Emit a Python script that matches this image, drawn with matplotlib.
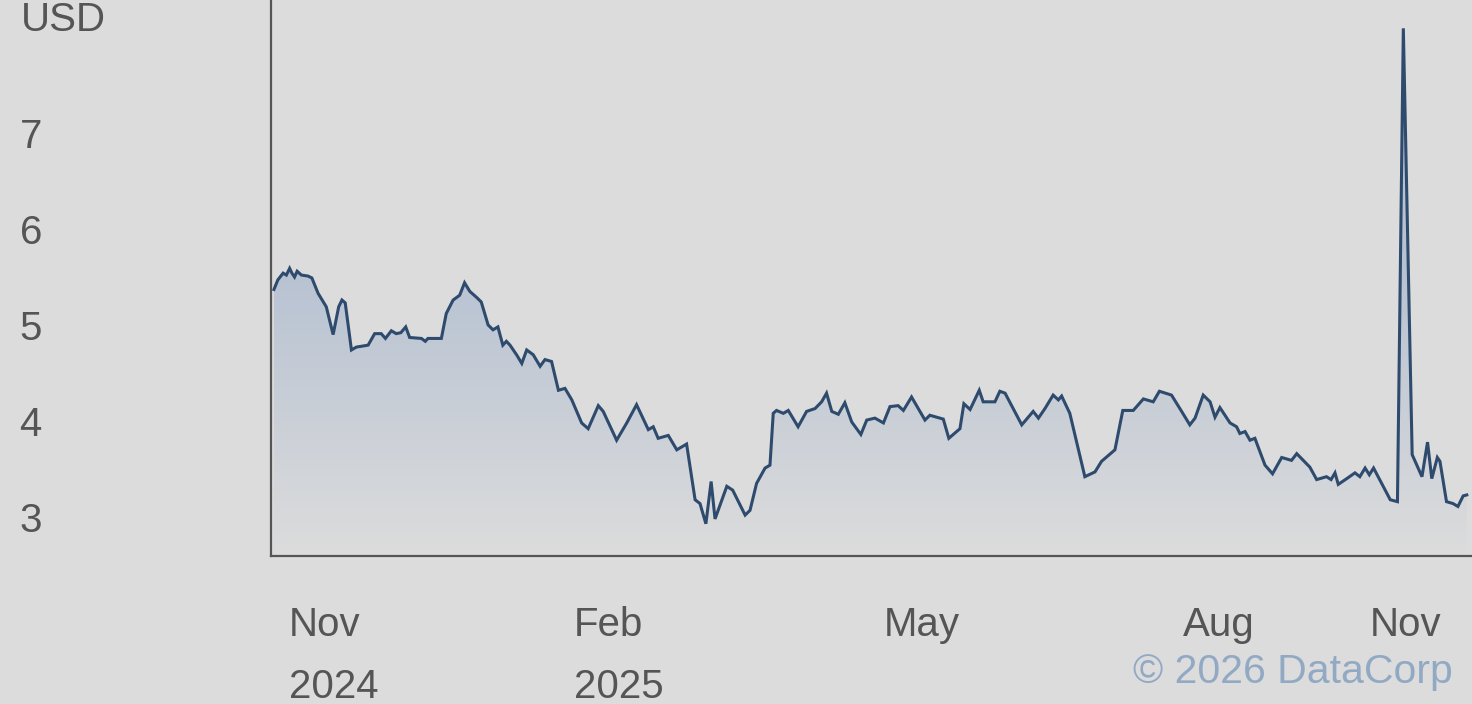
import numpy as np
import matplotlib
matplotlib.use("Agg")
import matplotlib.pyplot as plt
from matplotlib.colors import LinearSegmentedColormap

# ---- data (day offset from series start, price in USD) ----
day = [0.9, 2.1, 3.7, 4.7, 5.7, 6.4, 7.2, 8.0, 9.3, 11.3, 12.5, 14.4, 16.9, 19.0, 20.7,
       21.7, 22.7, 24.6, 26.1, 29.7, 31.7, 33.7, 35.0, 36.8, 38.3, 39.7, 41.2, 42.4, 46.0,
       47.2, 48.0, 52.1, 53.6, 55.7, 57.7, 59.2, 60.8, 62.8, 64.3, 66.4, 67.9, 69.4, 70.9,
       72.0, 73.1, 75.1, 76.7, 78.2, 80.2, 82.3, 83.8, 85.8, 87.9, 89.9, 92.0, 95.0, 97.0,
       100.1, 101.6, 105.7, 108.8, 111.8, 115.4, 116.9, 118.4, 121.5, 124.1, 127.1, 129.7,
       131.2, 133.0, 134.6, 135.8, 139.4, 141.2, 145.0, 146.5, 148.5, 151.1, 152.6, 153.6,
       154.6, 156.7, 158.2, 161.2, 163.8, 166.4, 168.4, 169.9, 171.5, 173.5, 175.5, 177.6,
       180.4, 182.2, 184.7, 187.3, 189.3, 191.8, 193.4, 195.9, 200.0, 201.5, 205.6, 207.3,
       210.7, 211.9, 213.8, 216.6, 217.8, 221.4, 222.9, 224.5, 229.6, 233.1, 234.7, 236.7,
       239.2, 240.8, 241.8, 244.3, 248.9, 252.0, 254.0, 258.1, 260.5, 263.7, 266.8, 269.8,
       271.7, 275.4, 278.5, 281.0, 282.6, 285.1, 287.2, 288.7, 290.2, 293.3, 295.3, 296.3,
       297.9, 299.4, 300.9, 304.0, 306.3, 309.1, 312.1, 313.7, 317.7, 319.8, 322.8, 324.2,
       325.4, 326.4, 329.0, 331.5, 333.0, 334.6, 335.9, 337.2, 342.3, 344.5, 346.3, 349.0,
       352.0, 353.7, 355.0, 356.7, 357.5, 359.5, 361.5, 363.0, 364.6, 365.7]
price = [5.37, 5.47, 5.54, 5.52, 5.59, 5.54, 5.50, 5.56, 5.52, 5.51, 5.49, 5.33, 5.19, 4.90, 5.19,
         5.26, 5.23, 4.74, 4.77, 4.79, 4.91, 4.91, 4.86, 4.94, 4.91, 4.92, 4.98, 4.87, 4.86,
         4.83, 4.86, 4.86, 5.12, 5.26, 5.31, 5.44, 5.35, 5.29, 5.24, 5.00, 4.95, 4.98, 4.79,
         4.83, 4.79, 4.69, 4.60, 4.74, 4.69, 4.57, 4.64, 4.62, 4.32, 4.34, 4.22, 3.98, 3.92,
         4.16, 4.10, 3.80, 3.98, 4.17, 3.91, 3.94, 3.82, 3.85, 3.70, 3.76, 3.18,
         3.14, 2.93, 3.37, 2.98, 3.32, 3.28, 3.02, 3.07, 3.35, 3.51, 3.54, 4.08,
         4.11, 4.08, 4.11, 3.94, 4.10, 4.13, 4.20, 4.29, 4.10, 4.07, 4.19, 3.99,
         3.86, 4.01, 4.03, 3.98, 4.15, 4.16, 4.11, 4.25, 4.01, 4.06, 4.02, 3.82,
         3.92, 4.18, 4.12, 4.32, 4.20, 4.20, 4.31, 4.29, 3.96, 4.10, 4.03, 4.13,
         4.27, 4.22, 4.26, 4.08, 3.42, 3.47, 3.58, 3.70, 4.11, 4.11, 4.23, 4.20,
         4.31, 4.27, 4.10, 3.96, 4.03, 4.27, 4.20, 4.04, 4.14, 3.98, 3.94, 3.87,
         3.89, 3.80, 3.82, 3.54, 3.45, 3.62, 3.59, 3.66, 3.52, 3.39, 3.42, 3.39,
         3.46, 3.34, 3.40, 3.46, 3.42, 3.51, 3.44, 3.51, 3.18, 3.16, 8.09, 3.65,
         3.42, 3.78, 3.40, 3.62, 3.58, 3.16, 3.14, 3.11, 3.22, 3.23]

y_ticks = [3, 4, 5, 6, 7]
x_tick_days = [5.5, 92.7, 187.5, 279.0, 336.1]
x_tick_labels = ["Nov\n2024", "Feb\n2025", "May", "Aug", "Nov"]
unit_label = "USD"
watermark = "\u00a9 2026 DataCorp"

# ---- style ----
BG = "#dcdcdc"
LINE = "#2e4b6e"
TEXT = "#555555"
FONT = ["Liberation Sans", "DejaVu Sans"]
plt.rcParams["font.family"] = FONT

fig = plt.figure(figsize=(14.72, 7.04), dpi=100, facecolor=BG)
ax = fig.add_axes([271 / 1472, 1 - 556 / 704, 1 - 271 / 1472, 556 / 704])
ax.set_facecolor(BG)

ymin, ymax = 2.594, 8.385
xmin, xmax = 0.0, 367.3
ax.set_xlim(xmin, xmax)
ax.set_ylim(ymin, ymax)

# gradient fill under the line
fill = ax.fill_between(day, price, ymin, color="none", linewidth=0)
path = fill.get_paths()[0]
ys = np.linspace(ymin, max(price), 400)
grad = np.clip((ys - ymin) / (5.6 - ymin), 0, 1).reshape(-1, 1)
cmap = LinearSegmentedColormap.from_list("g", [BG, "#b7c2d2"])
im = ax.imshow(grad, extent=[xmin, xmax, ymin, max(price)], origin="lower",
               aspect="auto", cmap=cmap, vmin=0, vmax=1, zorder=1, interpolation="bilinear")
im.set_clip_path(path, transform=ax.transData)

ax.plot(day, price, color=LINE, linewidth=2.2, zorder=3, solid_joinstyle="miter")

for s in ["top", "right"]:
    ax.spines[s].set_visible(False)
for s in ["left", "bottom"]:
    ax.spines[s].set_color("#555555")
    ax.spines[s].set_linewidth(1.6)

ax.set_yticks(y_ticks)
ax.set_yticklabels([str(t) for t in y_ticks])
ax.tick_params(axis="y", length=0, pad=181, labelsize=29, labelcolor=TEXT)
for lab in ax.get_yticklabels():
    lab.set_horizontalalignment("left")

ax.set_xticks(x_tick_days)
ax.set_xticklabels(x_tick_labels, linespacing=1.8)
ax.tick_params(axis="x", length=0, pad=36, labelsize=29, labelcolor=TEXT)
for lab in ax.get_xticklabels():
    lab.set_horizontalalignment("left")
    lab.set_verticalalignment("top")

fig.text(21 / 1472, 1 - 20 / 704, unit_label, ha="left", va="center",
         fontsize=29, color=TEXT)
fig.text(1453 / 1472, 1 - 672 / 704, watermark, ha="right", va="center",
         fontsize=29.5, color="#8aa4c2", alpha=0.9)

fig.savefig("out.png", dpi=100, facecolor=BG)
